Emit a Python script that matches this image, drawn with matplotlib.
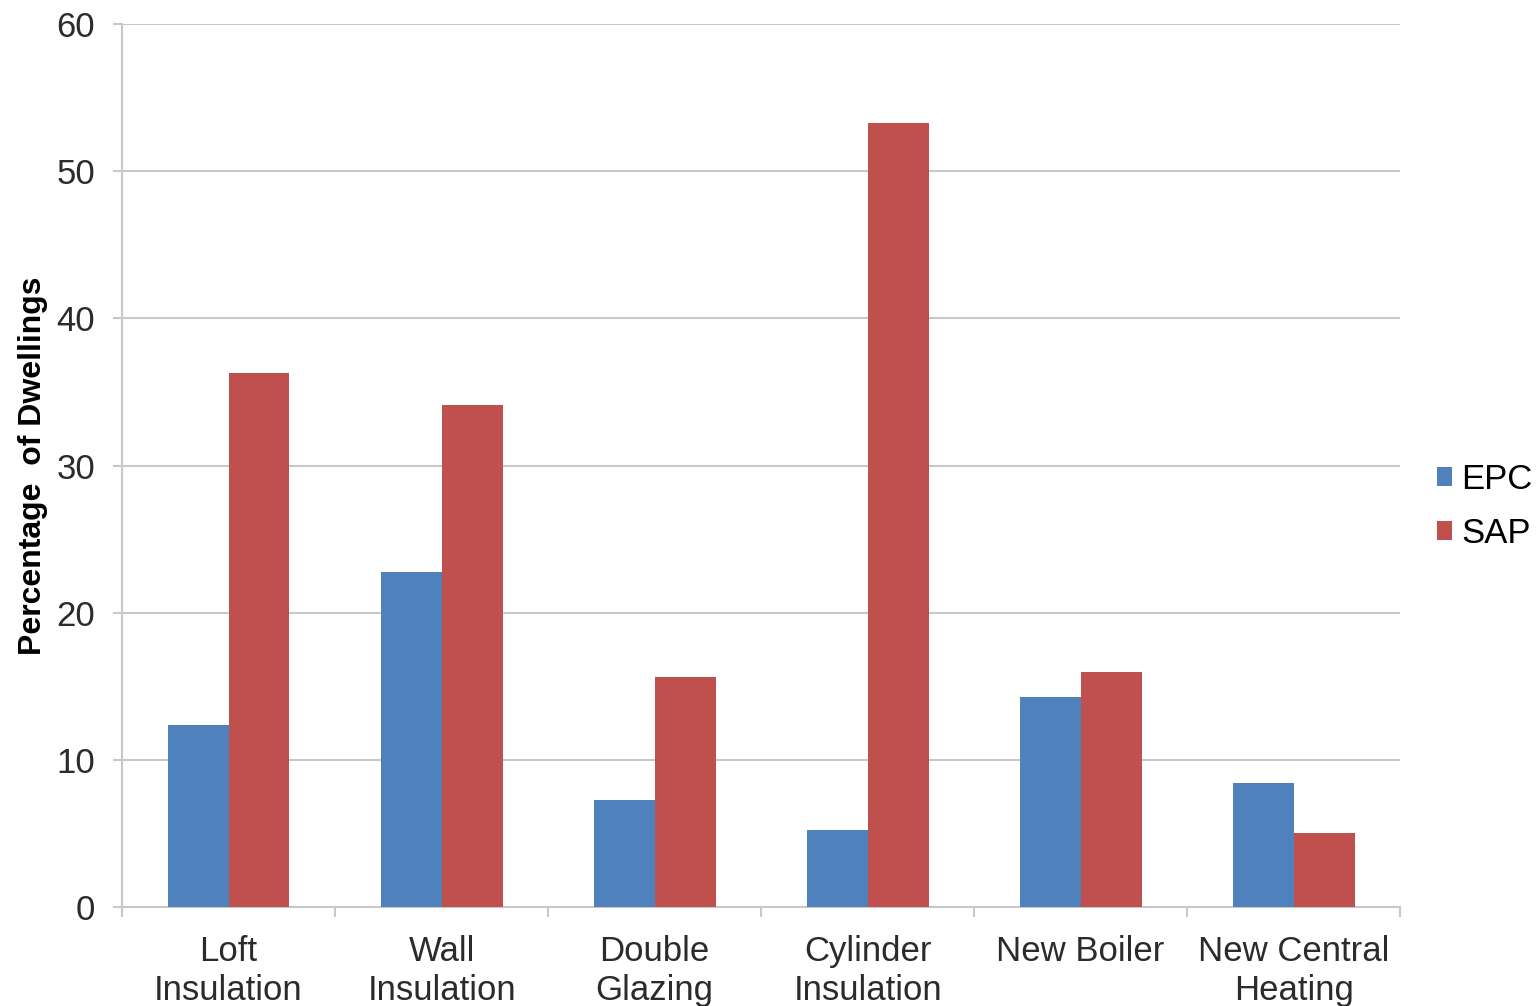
import numpy as np
import matplotlib.pyplot as plt

plt.rcParams['font.family'] = ['Liberation Sans', 'DejaVu Sans']

categories = ['Loft\nInsulation', 'Wall\nInsulation', 'Double\nGlazing',
              'Cylinder\nInsulation', 'New Boiler', 'New Central\nHeating']
epc = [12.4, 22.8, 7.3, 5.2, 14.3, 8.4]
sap = [36.3, 34.1, 15.6, 53.3, 16.0, 5.0]

fig = plt.figure(figsize=(15.37, 10.06), dpi=100)
ax = fig.add_axes([0.0794, 0.0984, 0.8316, 0.8776])

x = np.arange(len(categories))
w = 0.286
ax.bar(x - w/2, epc, w, color='#4F81BD', label='EPC', zorder=3)
ax.bar(x + w/2, sap, w, color='#C0504D', label='SAP', zorder=3)

ax.set_xlim(-0.5, len(categories) - 0.5)
ax.set_ylim(0, 60)
ax.set_yticks(range(0, 61, 10))
ax.yaxis.grid(True, color='#c8c8c8', linewidth=1.5, zorder=0)
ax.set_xticks(x)
ax.set_xticklabels(categories, fontsize=25, color='#2b2b2b', linespacing=1.25)
ax.set_xticks(np.arange(-0.5, len(categories)), minor=True)
ax.tick_params(axis='x', which='major', length=0, pad=20)
ax.tick_params(axis='x', which='minor', length=7, color='#c8c8c8', width=1.5)
ax.tick_params(axis='y', length=6.5, color='#c8c8c8', width=1.5, labelsize=25,
               labelcolor='#2b2b2b', pad=13)

for s in ['top', 'right']:
    ax.spines[s].set_visible(False)
for s in ['left', 'bottom']:
    ax.spines[s].set_color('#c8c8c8')
    ax.spines[s].set_linewidth(1.5)

ax.set_ylabel('Percentage  of Dwellings', fontsize=23, fontweight='bold')
ax.yaxis.set_label_coords(-0.058, 0.5)

ax.legend(loc='center left', bbox_to_anchor=(1.015, 0.454), frameon=False,
          fontsize=25, handlelength=0.45, handleheight=0.45, handletextpad=0.25,
          labelspacing=0.6, borderpad=0)

plt.savefig('out.png')
